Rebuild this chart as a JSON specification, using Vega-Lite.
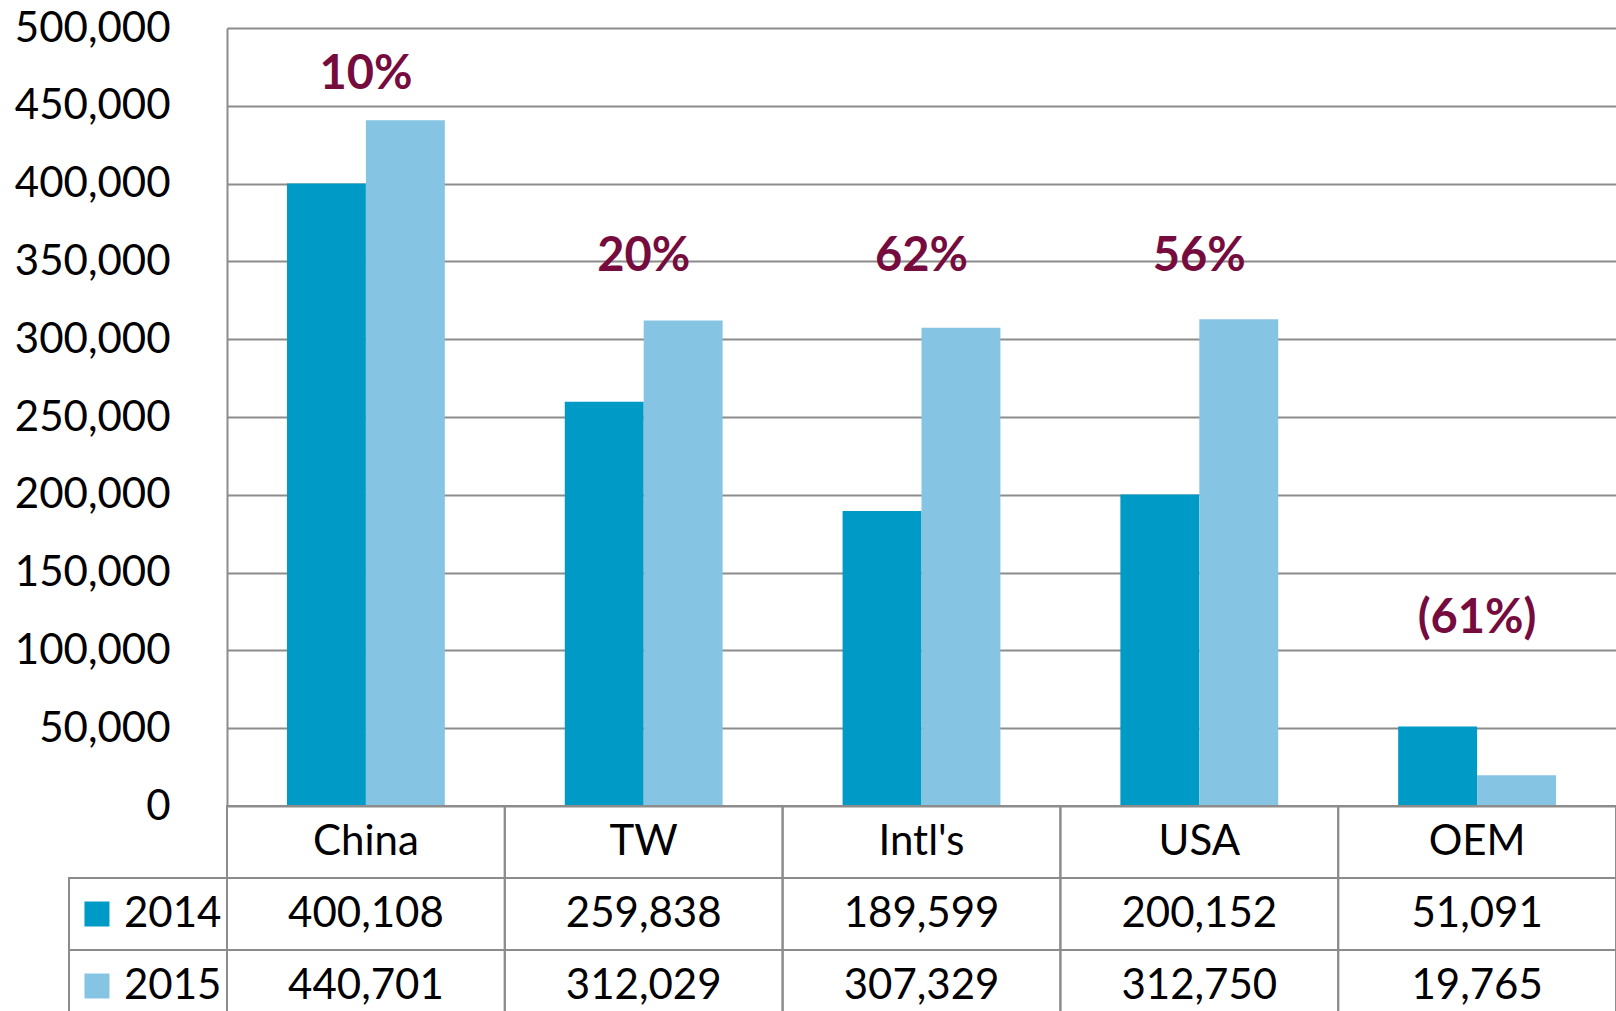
{
  "$schema": "https://vega.github.io/schema/vega-lite/v6.json",
  "width": 1389,
  "height": 983,
  "autosize": "none",
  "padding": {"left": 227, "top": 28, "right": 0, "bottom": 0},
  "background": "white",
  "config": {"view": {"stroke": null}, "font": "Lato", "text": {"font": "Lato"}},
  "datasets": {
    "sales": [
      {"category": "China", "year": "2014", "value": 400108},
      {"category": "China", "year": "2015", "value": 440701},
      {"category": "TW", "year": "2014", "value": 259838},
      {"category": "TW", "year": "2015", "value": 312029},
      {"category": "Intl's", "year": "2014", "value": 189599},
      {"category": "Intl's", "year": "2015", "value": 307329},
      {"category": "USA", "year": "2014", "value": 200152},
      {"category": "USA", "year": "2015", "value": 312750},
      {"category": "OEM", "year": "2014", "value": 51091},
      {"category": "OEM", "year": "2015", "value": 19765}
    ],
    "growth": [
      {"category": "China", "label": "10%", "labelY": 470000},
      {"category": "TW", "label": "20%", "labelY": 353000},
      {"category": "Intl's", "label": "62%", "labelY": 353000},
      {"category": "USA", "label": "56%", "labelY": 353000},
      {"category": "OEM", "label": "(61%)", "labelY": 120000}
    ]
  },
  "layer": [
    {
      "layer": [
        {
          "layer": [
            {
              "data": {"name": "sales"},
              "mark": {"type": "bar"},
              "encoding": {
                "x": {"field": "category", "type": "nominal", "scale": {"domain": ["China", "TW", "Intl's", "USA", "OEM"], "padding": 0}, "axis": null},
                "xOffset": {"field": "year", "type": "nominal", "scale": {"domain": ["2014", "2015"], "paddingInner": 0, "paddingOuter": 0.76}},
                "y": {
                  "field": "value", "type": "quantitative",
                  "scale": {"domain": [0, 500000], "range": [778, 0], "nice": false, "zero": true},
                  "axis": {
                    "values": [0, 50000, 100000, 150000, 200000, 250000, 300000, 350000, 400000, 450000, 500000],
                    "labelExpr": "format(datum.value, ',')", "title": null, "ticks": false,
                    "labelFont": "Lato", "labelFontSize": 42, "labelColor": "black", "labelPadding": 57,
                    "domainColor": "#8C8C8C", "domainWidth": 2,
                    "grid": true, "gridColor": "#8C8C8C", "gridWidth": 2
                  }
                },
                "color": {"field": "year", "type": "nominal", "scale": {"domain": ["2014", "2015"], "range": ["#009AC6", "#86C4E4"]}, "legend": null}
              }
            },
            {
              "data": {"name": "growth"},
              "mark": {"type": "text", "fontSize": 47, "fontWeight": "bold", "color": "#760C3E", "align": "center", "baseline": "middle"},
              "encoding": {
                "x": {"field": "category", "type": "nominal", "scale": {"domain": ["China", "TW", "Intl's", "USA", "OEM"], "padding": 0}, "axis": null},
                "y": {"field": "labelY", "type": "quantitative", "scale": {"domain": [0, 500000], "range": [778, 0], "nice": false}},
                "text": {"field": "label"}
              }
            }
          ]
        },
        {
          "layer": [
            {
              "data": {"name": "sales"},
              "transform": [{"filter": "datum.year === '2014'"}],
              "mark": {"type": "rect", "fill": null, "stroke": "#8C8C8C", "strokeWidth": 2},
              "encoding": {
                "x": {"field": "category", "type": "nominal", "scale": {"domain": ["China", "TW", "Intl's", "USA", "OEM"], "padding": 0}, "axis": null},
                "y": {"datum": "Category", "type": "nominal", "scale": {"domain": ["Category", "2014", "2015"], "range": [778, 994], "padding": 0}, "axis": null}
              }
            },
            {
              "data": {"name": "sales"},
              "mark": {"type": "rect", "fill": null, "stroke": "#8C8C8C", "strokeWidth": 2},
              "encoding": {
                "x": {"field": "category", "type": "nominal", "scale": {"domain": ["China", "TW", "Intl's", "USA", "OEM"], "padding": 0}, "axis": null},
                "y": {"field": "year", "type": "nominal", "scale": {"domain": ["Category", "2014", "2015"], "range": [778, 994], "padding": 0}, "axis": null}
              }
            },
            {
              "data": {"name": "sales"},
              "transform": [{"filter": "datum.year === '2014'"}],
              "mark": {"type": "text", "fontSize": 42, "color": "black", "align": "center", "baseline": "middle"},
              "encoding": {
                "x": {"field": "category", "type": "nominal", "scale": {"domain": ["China", "TW", "Intl's", "USA", "OEM"], "padding": 0}, "axis": null},
                "y": {"datum": "Category", "type": "nominal", "scale": {"domain": ["Category", "2014", "2015"], "range": [778, 994], "padding": 0}, "axis": null},
                "text": {"field": "category"}
              }
            },
            {
              "data": {"name": "sales"},
              "mark": {"type": "text", "fontSize": 42, "color": "black", "align": "center", "baseline": "middle"},
              "encoding": {
                "x": {"field": "category", "type": "nominal", "scale": {"domain": ["China", "TW", "Intl's", "USA", "OEM"], "padding": 0}, "axis": null},
                "y": {"field": "year", "type": "nominal", "scale": {"domain": ["Category", "2014", "2015"], "range": [778, 994], "padding": 0}, "axis": null},
                "text": {"field": "value", "format": ","}
              }
            }
          ]
        }
      ],
      "resolve": {"scale": {"y": "independent"}}
    },
    {
      "data": {"name": "sales"},
      "transform": [{"filter": "datum.category === 'China'"}],
      "layer": [
        {
          "mark": {"type": "rect", "fill": null, "stroke": "#8C8C8C", "strokeWidth": 2},
          "encoding": {
            "x": {"datum": "legend", "type": "nominal", "scale": {"domain": ["legend"], "range": [-158, 0], "padding": 0}, "axis": null},
            "y": {"field": "year", "type": "nominal", "scale": {"domain": ["Category", "2014", "2015"], "range": [778, 994], "padding": 0}, "axis": null}
          }
        },
        {
          "mark": {"type": "square", "size": 625, "opacity": 1},
          "encoding": {
            "x": {"datum": "legend", "type": "nominal", "bandPosition": 0.177, "scale": {"domain": ["legend"], "range": [-158, 0], "padding": 0}, "axis": null},
            "y": {"field": "year", "type": "nominal", "scale": {"domain": ["Category", "2014", "2015"], "range": [778, 994], "padding": 0}, "axis": null},
            "color": {"field": "year", "type": "nominal", "scale": {"domain": ["2014", "2015"], "range": ["#009AC6", "#86C4E4"]}, "legend": null}
          }
        },
        {
          "mark": {"type": "text", "fontSize": 42, "color": "black", "align": "left", "baseline": "middle"},
          "encoding": {
            "x": {"datum": "legend", "type": "nominal", "bandPosition": 0.348, "scale": {"domain": ["legend"], "range": [-158, 0], "padding": 0}, "axis": null},
            "y": {"field": "year", "type": "nominal", "scale": {"domain": ["Category", "2014", "2015"], "range": [778, 994], "padding": 0}, "axis": null},
            "text": {"field": "year"}
          }
        }
      ]
    }
  ],
  "resolve": {"scale": {"x": "independent", "y": "independent"}}
}
